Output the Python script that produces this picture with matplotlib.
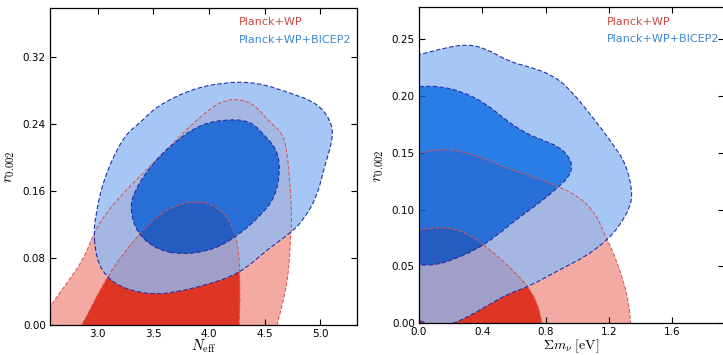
import numpy as np
import matplotlib.pyplot as plt
from matplotlib.path import Path
from matplotlib.patches import PathPatch

plt.rcParams['mathtext.fontset'] = 'cm'

# ---------- data: contour outlines -------------------------------------------

# left panel: N_eff vs r_0.002
neff_planck_2s_x = [2.43, 2.57, 2.72, 2.87, 2.97, 3.08, 3.23, 3.38, 3.53, 3.68, 3.83, 4.04,
                    4.14, 4.22, 4.34, 4.43, 4.55, 4.655, 4.70, 4.73, 4.745, 4.73, 4.72,
                    4.685, 4.61, 4.60]
neff_planck_2s_y = [-0.01, 0.022, 0.050, 0.078, 0.112, 0.135, 0.158, 0.178, 0.198, 0.218,
                    0.238, 0.262, 0.268, 0.270, 0.268, 0.260, 0.242, 0.230, 0.210, 0.166,
                    0.126, 0.100, 0.070, 0.038, 0.000, -0.01]
neff_planck_1s_x = [2.84, 2.853, 2.898, 2.988, 3.108, 3.198, 3.378, 3.529, 3.709, 3.889,
                    4.039, 4.159, 4.234, 4.264, 4.273, 4.279, 4.27, 4.27]
neff_planck_1s_y = [-0.01, 0.0, 0.010, 0.034, 0.062, 0.080, 0.110, 0.130, 0.144, 0.148,
                    0.144, 0.130, 0.110, 0.090, 0.070, 0.030, 0.0, -0.01]
neff_bicep_2s_x = [2.967, 2.973, 3.048, 3.228, 3.378, 3.529, 3.829, 4.129, 4.429, 4.730,
                   4.970, 5.090, 5.120, 5.030, 4.970, 4.850, 4.730, 4.520, 4.279, 3.979,
                   3.679, 3.529, 3.378, 3.198, 3.078, 3.003, 2.973]
neff_bicep_2s_y = [0.110, 0.126, 0.174, 0.2255, 0.2415, 0.2615, 0.2814, 0.2902, 0.2902,
                   0.2774, 0.2655, 0.2455, 0.2255, 0.1856, 0.1537, 0.1257, 0.1098, 0.0898,
                   0.0619, 0.0479, 0.0387, 0.0371, 0.0387, 0.0459, 0.0579, 0.0739, 0.0938]
neff_bicep_1s_x = [3.77, 4.04, 4.25, 4.46, 4.60, 4.64, 4.61, 4.49, 4.37, 4.16, 3.92, 3.68,
                   3.47, 3.32, 3.29, 3.35, 3.53]
neff_bicep_1s_y = [0.084, 0.090, 0.106, 0.130, 0.154, 0.186, 0.210, 0.228, 0.244, 0.246,
                   0.240, 0.218, 0.190, 0.158, 0.138, 0.110, 0.090]

# right panel: sum m_nu vs r_0.002
mnu_planck_2s_x = [-0.05, 0.0, 0.168, 0.358, 0.526, 0.716, 0.884, 1.011, 1.116, 1.179,
                   1.221, 1.284, 1.327, 1.337, 1.34, -0.05]
mnu_planck_2s_y = [0.1496, 0.1496, 0.154, 0.1482, 0.1379, 0.1291, 0.1203, 0.1115, 0.0968,
                   0.0763, 0.0646, 0.0411, 0.0176, 0.0, -0.01, -0.01]
mnu_planck_1s_x = [-0.05, 0.0, 0.126, 0.253, 0.40, 0.526, 0.653, 0.695, 0.748, 0.779,
                   0.78, -0.05]
mnu_planck_1s_y = [0.0822, 0.0822, 0.0845, 0.0827, 0.0704, 0.0558, 0.0381, 0.0308, 0.0176,
                   0.0, -0.01, -0.01]
mnu_bicep_2s_x = [-0.08, 0.0, 0.126, 0.295, 0.421, 0.569, 0.695, 0.842, 0.948, 1.095, 1.221,
                  1.306, 1.348, 1.337, 1.263, 1.190, 1.053, 0.884, 0.695, 0.569, 0.421,
                  0.274, 0.17, 0.06, 0.0, -0.08]
mnu_bicep_2s_y = [0.2362, 0.2362, 0.2412, 0.2459, 0.2421, 0.2303, 0.2259, 0.2186, 0.2069,
                  0.1819, 0.1585, 0.1408, 0.1174, 0.1027, 0.0851, 0.0734, 0.0587, 0.0469,
                  0.0323, 0.0264, 0.0147, 0.0029, -0.002, -0.001, 0.003, 0.003]
mnu_bicep_1s_x = [-0.05, 0.0, 0.126, 0.274, 0.421, 0.547, 0.674, 0.779, 0.884, 0.948, 0.969,
                  0.948, 0.884, 0.758, 0.611, 0.484, 0.358, 0.211, 0.105, 0.0, -0.05]
mnu_bicep_1s_y = [0.2083, 0.2083, 0.2089, 0.2039, 0.1937, 0.179, 0.1673, 0.1614, 0.1555,
                  0.1467, 0.1379, 0.1291, 0.1203, 0.1056, 0.091, 0.0763, 0.0646, 0.0558,
                  0.0513, 0.0513, 0.0513]

labels = ["Planck+WP", "Planck+WP+BICEP2"]
neff_ticks = [3.0, 3.5, 4.0, 4.5, 5.0]
neff_r_ticks = [0.00, 0.08, 0.16, 0.24, 0.32]
mnu_ticks = [0.0, 0.4, 0.8, 1.2, 1.6]
mnu_r_ticks = [0.00, 0.05, 0.10, 0.15, 0.20, 0.25]

RED_LIGHT = "#F3AAA2"
RED_DARK = "#DE3524"
BLUE_LIGHT = "#90BAF3"
BLUE_DARK = "#0064E1"
RED_LINE = "#D9504A"
BLUE_LINE = "#2231A8"
RED_TEXT = "#D2463F"
BLUE_TEXT = "#3B87D2"


def area(pts):
    x, y = pts[:, 0], pts[:, 1]
    return 0.5 * np.sum(x * np.roll(y, -1) - np.roll(x, -1) * y)


def smooth(pts, lo):
    # closed quadratic bezier through the midpoints; points outside the
    # plot window (the cut at the prior edge) stay sharp corners
    mids = (pts + np.roll(pts, -1, axis=0)) / 2
    sharp = (pts[:, 0] < lo[0]) | (pts[:, 1] < lo[1])
    verts = [mids[-1]]
    codes = [Path.MOVETO]
    for p, m, s in zip(pts, mids, sharp):
        verts += [p, m]
        codes += [Path.LINETO, Path.LINETO] if s else [Path.CURVE3, Path.CURVE3]
    verts.append(mids[-1])
    codes.append(Path.CLOSEPOLY)
    return verts, codes


def outline(x, y, ccw=True):
    pts = np.column_stack([x, y]).astype(float)
    if (area(pts) > 0) != ccw:
        pts = pts[::-1]
    return pts


def shape(x, y, lo):
    v, c = smooth(outline(x, y), lo)
    return Path(v, c)


def ring(xo, yo, xi, yi, lo):
    vo, co = smooth(outline(xo, yo, True), lo)
    vi, ci = smooth(outline(xi, yi, False), lo)
    return Path(vo + vi, co + ci)


def draw_panel(ax, lo, p2x, p2y, p1x, p1y, b2x, b2y, b1x, b1y):
    ax.add_patch(PathPatch(shape(p2x, p2y, lo), facecolor=RED_LIGHT, lw=0, zorder=1))
    ax.add_patch(PathPatch(shape(p1x, p1y, lo), facecolor=RED_DARK, lw=0, zorder=2))
    ax.add_patch(PathPatch(ring(b2x, b2y, b1x, b1y, lo), facecolor=BLUE_LIGHT,
                           alpha=0.8, lw=0, zorder=3))
    ax.add_patch(PathPatch(shape(b1x, b1y, lo), facecolor=BLUE_DARK, alpha=0.84, lw=0,
                           zorder=4))
    for x, y in [(p2x, p2y), (p1x, p1y)]:
        ax.add_patch(PathPatch(shape(x, y, lo), fill=False, edgecolor=RED_LINE, lw=0.7,
                               ls=(0, (4, 2)), zorder=5))
    for x, y in [(b2x, b2y), (b1x, b1y)]:
        ax.add_patch(PathPatch(shape(x, y, lo), fill=False, edgecolor=BLUE_LINE, lw=0.8,
                               ls=(0, (4, 2)), zorder=6))
    ax.tick_params(direction="in", top=True, right=True, length=4, width=0.8,
                   labelsize=7.5, pad=3)
    for s in ax.spines.values():
        s.set_linewidth(0.9)
        s.set_zorder(8)
    ax.text(0.616, 0.955, labels[0], transform=ax.transAxes, color=RED_TEXT,
            fontsize=8, va="center", ha="left", zorder=7)
    ax.text(0.616, 0.900, labels[1], transform=ax.transAxes, color=BLUE_TEXT,
            fontsize=8, va="center", ha="left", zorder=7)


fig = plt.figure(figsize=(7.23, 3.55), dpi=100)

ax1 = fig.add_axes([0.0692, 0.0845, 0.4246, 0.893])
draw_panel(ax1, (2.57, 0.0),
           neff_planck_2s_x, neff_planck_2s_y, neff_planck_1s_x, neff_planck_1s_y,
           neff_bicep_2s_x, neff_bicep_2s_y, neff_bicep_1s_x, neff_bicep_1s_y)
ax1.set_xlim(2.57, 5.33)
ax1.set_ylim(0, 0.379)
ax1.set_xticks(neff_ticks)
ax1.set_yticks(neff_r_ticks)
ax1.set_xticklabels([f"{t:.1f}" for t in neff_ticks])
ax1.set_yticklabels([f"{t:.2f}" for t in neff_r_ticks])
ax1.set_xlabel(r"$N_{\rm eff}$", fontsize=10.5, labelpad=-1)
ax1.set_ylabel(r"$r_{0.002}$", fontsize=11, labelpad=4)

ax2 = fig.add_axes([0.5795, 0.0893, 0.4219, 0.8896])
draw_panel(ax2, (0.0, 0.0),
           mnu_planck_2s_x, mnu_planck_2s_y, mnu_planck_1s_x, mnu_planck_1s_y,
           mnu_bicep_2s_x, mnu_bicep_2s_y, mnu_bicep_1s_x, mnu_bicep_1s_y)
ax2.set_xlim(0, 1.927)
ax2.set_ylim(0, 0.278)
ax2.set_xticks(mnu_ticks)
ax2.set_yticks(mnu_r_ticks)
ax2.set_xticklabels([f"{t:.1f}" for t in mnu_ticks])
ax2.set_yticklabels([f"{t:.2f}" for t in mnu_r_ticks])
ax2.set_xlabel(r"$\Sigma m_\nu\ [\mathrm{eV}]$", fontsize=10, labelpad=0)
ax2.set_ylabel(r"$r_{0.002}$", fontsize=11, labelpad=4)

fig.savefig("out.png", dpi=100)
